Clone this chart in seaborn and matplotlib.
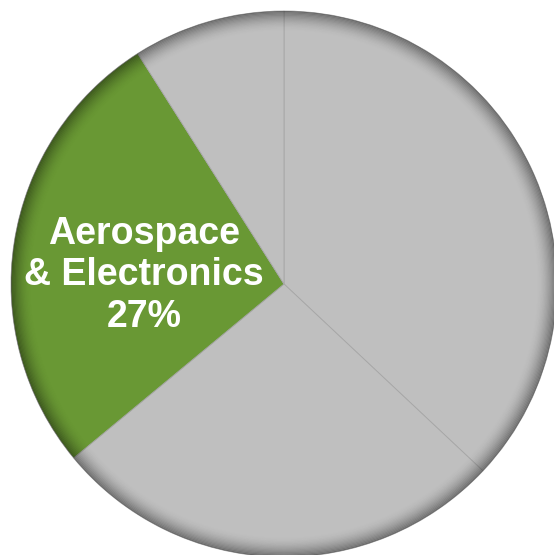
"""Segment share pie chart with the Aerospace & Electronics slice highlighted."""

import matplotlib
matplotlib.use('Agg')
import matplotlib.pyplot as plt
import seaborn as sns
from matplotlib.patches import Wedge

# Slices clockwise from 12 o'clock
segments = ['Segment A', 'Segment B', 'Aerospace & Electronics', 'Segment D']
shares = [37, 27, 27, 9]
highlight = 'Aerospace & Electronics'
label_text = 'Aerospace\n& Electronics\n27%'

GRAY = '#bfbfbf'
GREEN = '#699834'

sns.set_theme(style='white')
plt.rcParams['font.family'] = ['Liberation Sans', 'DejaVu Sans']

fig = plt.figure(figsize=(5.54, 5.55), dpi=100)
# circle: centre at (284, 284) px from top-left, radius 273 px; figure clips it on right/bottom
ax = fig.add_axes([11 / 554, -2 / 555, 546 / 554, 546 / 555])

colors = [GREEN if s == highlight else GRAY for s in segments]
labels = [label_text if s == highlight else '' for s in segments]

wedges, texts = ax.pie(
    shares,
    colors=colors,
    labels=labels,
    startangle=90,
    counterclock=False,
    radius=1,
    labeldistance=0.52,
    wedgeprops=dict(edgecolor='#a6a6a6', linewidth=0.6),
    textprops=dict(color='white', fontsize=27, fontweight='bold', linespacing=1.2),
)
for t in texts:
    t.set_ha('center')
    t.set_va('center')
    t.set_y(t.get_position()[1] - 0.05)

# soft inner shadow along the rim
steps = 16
for i in range(steps):
    r = 1 - i * 0.0045
    ax.add_patch(Wedge((0, 0), r, 0, 360, width=0.0045, color='black',
                       alpha=0.42 * (1 - i / steps) ** 1.8, lw=0))

ax.set_xlim(-1, 1)
ax.set_ylim(-1, 1)
ax.set_aspect('equal')
ax.axis('off')

fig.savefig('out.png', dpi=100)
plt.close(fig)
